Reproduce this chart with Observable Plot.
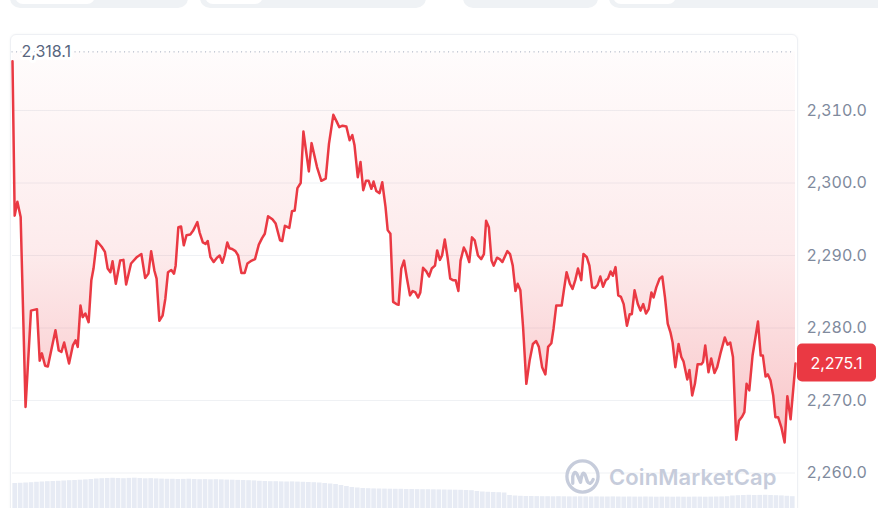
<!DOCTYPE html>
<html>
<head>
<meta charset="utf-8">
<script src="https://cdn.jsdelivr.net/npm/d3@7"></script>
<script src="https://cdn.jsdelivr.net/npm/@observablehq/plot@0.6"></script>
<style>
  body { margin: 0; background: #fff; font-family: Inter, Roboto, "Noto Sans", sans-serif; }
  #wrap { position: relative; width: 878px; height: 508px; overflow: hidden; background: #fff; }
  .pill { position: absolute; top: -12px; height: 20px; background: #eff2f5; border-radius: 10px; }
  .pill i { position: absolute; top: 0; height: 16px; background: #fff; border-radius: 8px; }
  #card { position: absolute; left: 10px; top: 34px; width: 786px; height: 490px; border: 1px solid #eef0f4; border-radius: 6px; box-shadow: 0 0 2px rgba(88,102,126,0.08); }
  #main, #vol { position: absolute; left: 0; }
  #main { top: 0; }
  #vol { top: 472px; }
  #wm { position: absolute; left: 564px; top: 458px; display: flex; align-items: center; gap: 8px; color: #c6ccdb; font-family: Inter, Roboto, sans-serif; font-weight: 600; font-size: 22px; letter-spacing: 0.1px; }
</style>
</head>
<body>
<div id="wrap">
  <div class="pill" style="left:10px;width:178px"><i style="left:5px;width:80px"></i></div>
  <div class="pill" style="left:200px;width:226px"><i style="left:5px;width:58px"></i></div>
  <div class="pill" style="left:463px;width:135px"></div>
  <div class="pill" style="left:609px;width:290px"><i style="left:4px;width:63px"></i></div>
  <div id="card"></div>
  <div id="vol"></div>
  <div id="main"></div>
  <div id="wm">
    <svg width="37" height="37" viewBox="0 0 38 38">
      <circle cx="19" cy="19" r="16" fill="none" stroke="#c6ccdb" stroke-width="3.4"/>
      <path d="M9 26 L9 19 Q11 11 14 18 L17 25 Q19 11 22 18 L24 24 Q27 29 30 22" fill="none" stroke="#c6ccdb" stroke-width="3.4" stroke-linecap="round" stroke-linejoin="round"/>
    </svg>
    <span>CoinMarketCap</span>
  </div>
</div>
<script>
// ---- data (minutes since start of the 24h window, price in USD) ----
const minutes = [0,4,9,15,24,34,45,50,54,60,65,79,85,90,95,104,111,116,120,125,129,134,140,145,149,155,164,170,175,180,184,190,198,204,209,218,229,237,244,250,255,261,265,270,276,281,286,292,297,300,305,310,315,320,327,332,340,344,350,355,359,364,370,376,381,386,390,395,399,404,410,415,421,427,432,440,446,453,459,464,470,478,484,492,496,501,509,514,519,524,530,535,539,545,550,560,568,576,582,590,596,601,607,614,620,625,629,635,640,645,650,655,660,664,669,675,680,686,690,695,700,706,710,715,720,725,731,736,741,746,750,755,761,766,771,777,781,786,790,795,800,805,810,815,820,824,830,834,840,845,850,856,862,867,871,876,881,885,891,896,901,910,915,920,925,929,934,939,945,951,957,963,968,974,980,985,991,995,1000,1010,1014,1019,1025,1030,1035,1040,1046,1050,1056,1061,1066,1071,1076,1081,1086,1091,1095,1100,1104,1109,1114,1119,1124,1130,1135,1139,1144,1150,1155,1160,1165,1170,1175,1179,1184,1190,1195,1200,1205,1210,1214,1219,1225,1230,1234,1241,1245,1250,1255,1260,1267,1270,1274,1280,1285,1291,1296,1302,1310,1315,1320,1325,1331,1336,1342,1346,1350,1355,1361,1371,1376,1380,1385,1389,1394,1399,1403,1408,1414,1420,1425,1431,1440];
const prices = [2316.8,2295.5,2297.4,2295.3,2269.1,2282.4,2282.6,2275.5,2276.5,2274.8,2274.7,2279.7,2276.9,2276.7,2278.0,2275.1,2277.6,2278.3,2277.4,2283.1,2281.5,2282.0,2280.8,2286.6,2288.2,2292.0,2291.2,2290.5,2288.2,2287.7,2289.2,2286.1,2289.3,2289.4,2286.0,2288.9,2289.8,2290.2,2286.9,2287.5,2290.6,2287.9,2286.8,2281.0,2281.7,2284.0,2287.7,2288.0,2287.5,2288.6,2293.9,2294.0,2291.4,2292.8,2292.9,2293.4,2294.6,2293.2,2291.8,2291.6,2292.0,2289.8,2289.1,2289.7,2290.0,2289.0,2290.0,2291.8,2291.0,2290.9,2290.6,2290.0,2287.6,2287.6,2288.9,2289.3,2289.5,2291.5,2292.4,2293.0,2295.4,2295.0,2294.4,2292.1,2292.0,2294.1,2293.8,2296.1,2296.2,2299.3,2300.0,2307.1,2304.9,2301.6,2305.5,2302.2,2300.3,2300.6,2305.4,2309.4,2308.5,2307.7,2307.9,2307.8,2305.9,2306.6,2305.2,2300.8,2302.9,2299.0,2300.3,2300.3,2299.2,2300.2,2298.9,2298.6,2300.1,2296.7,2293.5,2293.0,2283.6,2283.3,2283.2,2288.2,2289.3,2287.0,2284.5,2285.1,2284.9,2284.2,2284.9,2288.3,2287.8,2287.1,2288.2,2288.6,2290.7,2289.4,2290.0,2292.2,2289.8,2286.8,2286.6,2286.6,2285.1,2289.3,2291.1,2290.5,2289.1,2292.5,2292.1,2290.0,2289.5,2290.2,2294.8,2293.9,2289.3,2288.6,2289.7,2289.5,2289.1,2290.6,2290.2,2288.6,2285.1,2286.1,2285.2,2280.1,2272.3,2275.5,2277.8,2278.2,2277.4,2274.6,2273.6,2277.4,2277.9,2279.9,2283.1,2283.1,2285.2,2287.7,2286.1,2285.4,2286.6,2288.2,2286.6,2290.2,2289.8,2288.6,2285.6,2285.5,2285.9,2287.1,2285.7,2286.6,2286.8,2287.8,2287.2,2288.4,2284.5,2284.3,2283.3,2280.3,2281.9,2281.9,2285.2,2283.3,2282.4,2283.3,2282.0,2282.6,2284.9,2284.2,2285.6,2286.8,2287.1,2284.2,2280.6,2279.4,2278.0,2274.6,2277.8,2276.0,2275.4,2272.9,2274.2,2270.7,2272.3,2275.0,2275.0,2275.3,2277.6,2273.9,2275.8,2273.8,2274.6,2276.5,2278.7,2277.7,2278.0,2276.0,2264.6,2267.2,2267.8,2268.4,2272.3,2271.4,2276.2,2280.9,2276.2,2276.2,2273.3,2273.6,2272.8,2270.7,2267.7,2267.7,2266.3,2264.2,2270.6,2267.4,2275.1];
const openPrice = 2318.1;
const lastPrice = 2275.1;
const yTicks = [2260, 2270, 2280, 2290, 2300, 2310];
// volume per 10-minute bucket (USD millions, estimated)
const volume = [250,252,255,258,262,265,268,270,272,275,278,280,283,286,
  290,295,298,300,302,300,298,301,303,300,297,299,296,294,292,
  292,290,291,293,290,288,289,287,288,286,284,283,281,280,278,276,
  272,270,268,268,266,265,266,264,262,260,258,255,250,245,240,230,220,
  210,205,200,198,196,195,194,193,192,192,190,190,189,188,188,187,186,185,184,183,182,180,178,
  170,165,162,160,158,155,
  130,125,122,120,120,119,118,118,117,118,117,116,116,117,116,115,116,115,115,116,115,114,115,114,114,115,114,113,114,114,113,114,113,113,114,114,113,114,115,116,118,
  125,128,130,132,130,131,132,130,128,126,122,118];

const series = minutes.map((t, i) => ({t, p: prices[i]}));
const fmt = d3.format(",.1f");
const red = "#ea3943";

function badge(index, scales, values, dims) {
  const g = d3.create("svg:g");
  const y = scales.y(lastPrice);
  const x0 = dims.width - dims.marginRight + 2;
  g.append("rect").attr("x", x0).attr("y", y - 19.5).attr("width", 79).attr("height", 38)
    .attr("rx", 5).attr("fill", red);
  g.append("text").attr("x", x0 + 39.5).attr("y", y).attr("dy", "0.36em")
    .attr("text-anchor", "middle")
    .attr("fill", "#fff").attr("font-size", 16).attr("font-family", "Inter, Roboto, sans-serif")
    .text(fmt(lastPrice));
  return g.node();
}

const main = Plot.plot({
  width: 878,
  height: 508,
  marginLeft: 12,
  marginRight: 83,
  marginTop: 37.5,
  marginBottom: 6.5,
  style: {background: "transparent", fontFamily: "Inter, Roboto, sans-serif", overflow: "visible"},
  x: {domain: [0, 1440], axis: null},
  y: {domain: [2256, 2320], axis: null, label: null},
  marks: [
    Plot.ruleY(yTicks, {stroke: "#eff1f4", strokeWidth: 1}),
    Plot.areaY(series, {x: "t", y1: openPrice, y2: "p", fill: "url(#redGrad)"}),
    Plot.ruleY([openPrice], {stroke: "#a7b1c2", strokeWidth: 1.2, strokeDasharray: "0.1,4.4", strokeLinecap: "round"}),
    Plot.lineY(series, {x: "t", y: "p", stroke: red, strokeWidth: 2.5, strokeLinejoin: "round"}),
    Plot.axisY(yTicks, {anchor: "right", label: null, tickSize: 0, tickPadding: 11, tickFormat: fmt, fontSize: 16, color: "#808a9d", textAnchor: "start"}),
    Plot.text([openPrice], {y: d => d, frameAnchor: "left", dx: 9, text: d => fmt(d), textAnchor: "start",
      fill: "#58667e", stroke: "#fff", strokeWidth: 6, paintOrder: "stroke", fontSize: 16}),
    badge
  ]
});
const defs = d3.create("svg:defs");
const grad = defs.append("linearGradient").attr("id", "redGrad")
  .attr("gradientUnits", "userSpaceOnUse").attr("x1", 0).attr("x2", 0).attr("y1", 50).attr("y2", 450);
grad.append("stop").attr("offset", 0).attr("stop-color", red).attr("stop-opacity", 0.015);
grad.append("stop").attr("offset", 0.5).attr("stop-color", red).attr("stop-opacity", 0.1);
grad.append("stop").attr("offset", 1).attr("stop-color", red).attr("stop-opacity", 0.3);
main.insertBefore(defs.node(), main.firstChild);
document.getElementById("main").appendChild(main);

const volData = volume.map((v, i) => ({t0: i * 10, t1: i * 10 + 10, v}));
const vol = Plot.plot({
  width: 878,
  height: 36,
  marginLeft: 12,
  marginRight: 83,
  marginTop: 0,
  marginBottom: 0,
  style: {background: "transparent"},
  x: {domain: [0, 1440], axis: null},
  y: {domain: [0, 360], axis: null},
  marks: [
    Plot.rectY(volData, {x1: "t0", x2: "t1", y: "v", fill: "#e7ebf4", insetLeft: 0.4, insetRight: 0.4})
  ]
});
document.getElementById("vol").appendChild(vol);
</script>
</body>
</html>
